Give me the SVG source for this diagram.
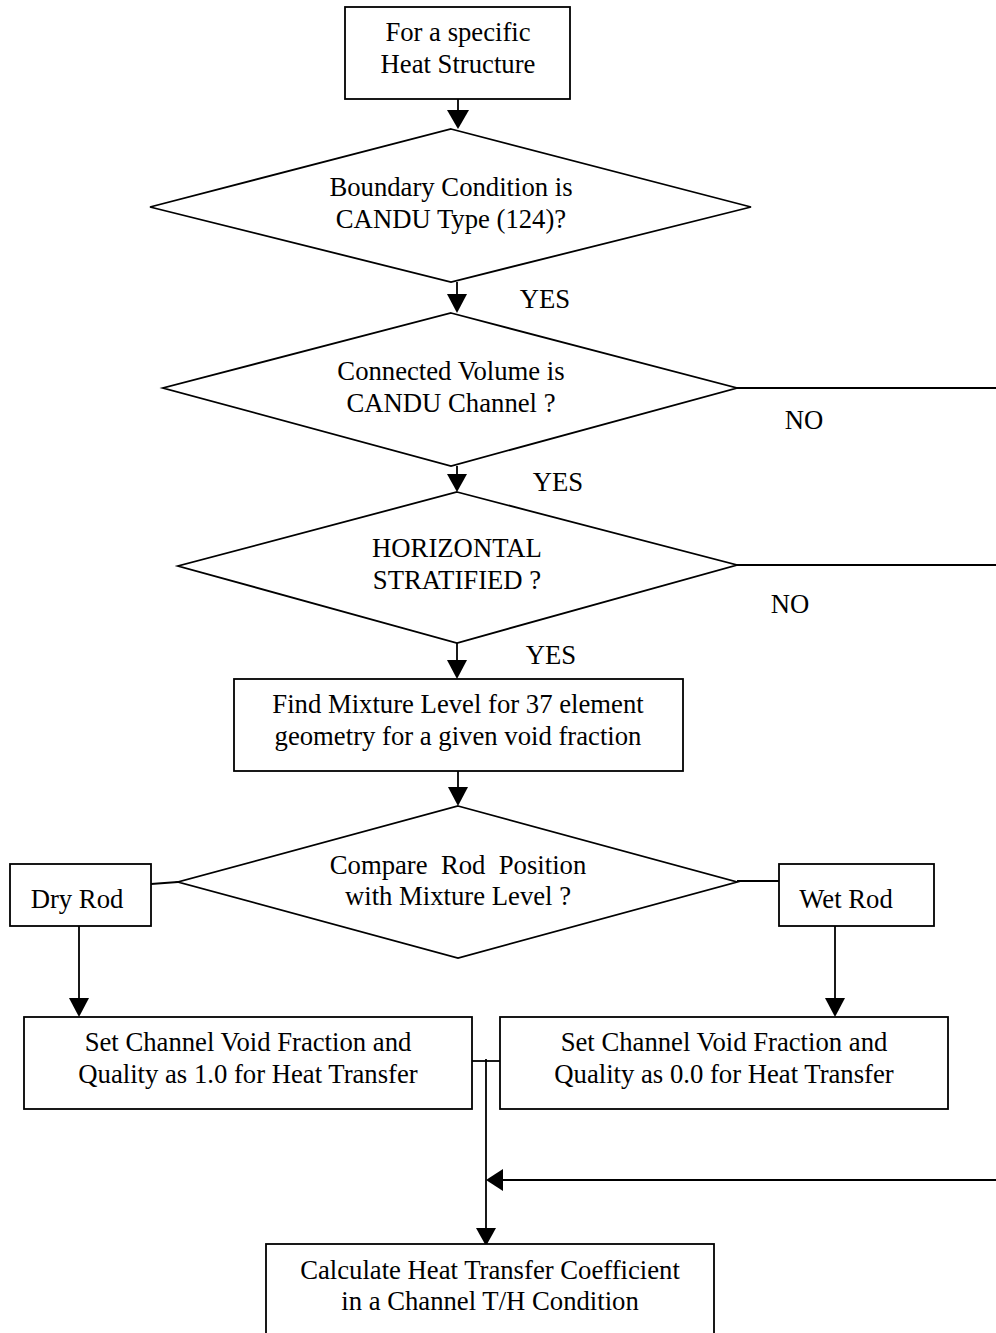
<svg xmlns="http://www.w3.org/2000/svg" width="996" height="1333" viewBox="0 0 996 1333">
<style>
.s{fill:#fff;stroke:#000;stroke-width:1.8}
.c{fill:none;stroke:#000;stroke-width:1.8}
.a{fill:#000;stroke:none}
text{font-family:"Liberation Serif","Times New Roman",serif;font-size:26.7px;fill:#000}
.m{text-anchor:middle}
</style>
<rect width="996" height="1333" fill="#fff"/>
<g id="connectors">
<line class="c" x1="458" y1="99" x2="458" y2="112"/>
<polygon class="a" points="447,110 469,110 458,129"/>
<line class="c" x1="457" y1="282" x2="457" y2="296"/>
<polygon class="a" points="447,294 467,294 457,313"/>
<line class="c" x1="457" y1="466" x2="457" y2="476"/>
<polygon class="a" points="447,474 467,474 457,492"/>
<line class="c" x1="457" y1="643" x2="457" y2="662"/>
<polygon class="a" points="447,660 467,660 457,679"/>
<line class="c" x1="458" y1="771" x2="458" y2="789"/>
<polygon class="a" points="448,787 468,787 458,806"/>
<line class="c" x1="737" y1="388" x2="996" y2="388"/>
<line class="c" x1="737" y1="565" x2="996" y2="565"/>
<line class="c" x1="151" y1="884" x2="178" y2="882"/>
<line class="c" x1="737" y1="881" x2="779" y2="881"/>
<line class="c" x1="79" y1="926" x2="79" y2="1000"/>
<polygon class="a" points="69,998 89,998 79,1017"/>
<line class="c" x1="835" y1="926" x2="835" y2="1000"/>
<polygon class="a" points="825,998 845,998 835,1017"/>
<line class="c" x1="472" y1="1061" x2="500" y2="1061"/>
<line class="c" x1="486" y1="1059" x2="486" y2="1230"/>
<polygon class="a" points="476,1228 496,1228 486,1246"/>
<line class="c" x1="996" y1="1180" x2="500" y2="1180"/>
<polygon class="a" points="486,1180 503,1169 503,1191"/>
</g>
<g id="n1">
<rect class="s" x="345" y="7" width="225" height="92"/>
<text class="m" x="458" y="41">For a specific</text>
<text class="m" x="458" y="73">Heat Structure</text>
</g>
<g id="n2">
<polygon class="s" points="451,129 751,207 451,282 150,207"/>
<text class="m" x="451" y="196">Boundary Condition is</text>
<text class="m" x="451" y="228">CANDU Type (124)?</text>
</g>
<g id="l1"><text class="m" x="545" y="308">YES</text></g>
<g id="n3">
<polygon class="s" points="451,313 737,388 451,466 163,388"/>
<text class="m" x="451" y="380">Connected Volume is</text>
<text class="m" x="451" y="412">CANDU Channel ?</text>
</g>
<g id="l2"><text class="m" x="804" y="429">NO</text></g>
<g id="l3"><text class="m" x="558" y="491">YES</text></g>
<g id="n4">
<polygon class="s" points="457,492 737,565 457,643 178,566"/>
<text class="m" x="457" y="557">HORIZONTAL</text>
<text class="m" x="457" y="589">STRATIFIED ?</text>
</g>
<g id="l4"><text class="m" x="790" y="613">NO</text></g>
<g id="l5"><text class="m" x="551" y="664">YES</text></g>
<g id="n5">
<rect class="s" x="234" y="679" width="449" height="92"/>
<text class="m" x="458" y="713">Find Mixture Level for 37 element</text>
<text class="m" x="458" y="745">geometry for a given void fraction</text>
</g>
<g id="n6">
<polygon class="s" points="458,806 737,882 458,958 178,882"/>
<text class="m" x="458" y="874" xml:space="preserve" style="white-space:pre">Compare  Rod  Position</text>
<text class="m" x="458" y="905">with Mixture Level ?</text>
</g>
<g id="n7">
<rect class="s" x="10" y="864" width="141" height="62"/>
<text class="m" x="77" y="908">Dry Rod</text>
</g>
<g id="n8">
<rect class="s" x="779" y="864" width="155" height="62"/>
<text class="m" x="846" y="908">Wet Rod</text>
</g>
<g id="n9">
<rect class="s" x="24" y="1017" width="448" height="92"/>
<text class="m" x="248" y="1051">Set Channel Void Fraction and</text>
<text class="m" x="248" y="1083">Quality as 1.0 for Heat Transfer</text>
</g>
<g id="n10">
<rect class="s" x="500" y="1017" width="448" height="92"/>
<text class="m" x="724" y="1051">Set Channel Void Fraction and</text>
<text class="m" x="724" y="1083">Quality as 0.0 for Heat Transfer</text>
</g>
<g id="n11">
<rect class="s" x="266" y="1244" width="448" height="100"/>
<text class="m" x="490" y="1279">Calculate Heat Transfer Coefficient</text>
<text class="m" x="490" y="1310">in a Channel T/H Condition</text>
</g>
</svg>
